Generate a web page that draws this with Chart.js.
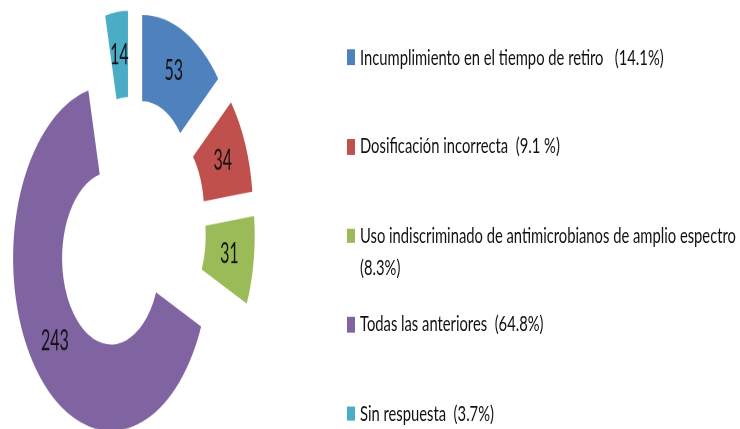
<!DOCTYPE html>
<html>
<head>
<meta charset="utf-8">
<script src="https://cdn.jsdelivr.net/npm/chart.js@4"></script>
<style>
  html { overflow: hidden; }
  body { margin: 0; padding: 0; background: #fff; }
  #page { position: relative; width: 740px; height: 429px; overflow: hidden; }
  /* the original picture is stretched vertically, so draw flat and stretch */
  #stage {
    position: absolute; left: 0; top: 0; width: 740px; height: 243px;
    transform: scaleY(1.76); transform-origin: 0 0;
  }
  #pie { position: absolute; left: 0; top: 0; }
  #legend-box {
    position: absolute; left: 347px; top: 23.7px; width: 393px;
    font-family: Lato, sans-serif; font-size: 12px; color: #111;
  }
  .legend-item { display: flex; align-items: flex-start; height: 50.6px; }
  .legend-item .mark { width: 8px; height: 8.5px; margin: 4.8px 5px 0 0; flex: none; }
  .legend-item .txt {
    display: inline-block; width: 306px; line-height: 18px; white-space: pre-wrap;
    transform: scaleX(1.23); transform-origin: 0 0;
  }
</style>
</head>
<body>
<div id="page">
  <div id="stage">
    <canvas id="pie" width="262" height="260"></canvas>
    <div id="legend-box"></div>
  </div>
</div>
<script>
// Data
const SLICE_LABELS = [
  'Incumplimiento en el tiempo de retiro',
  'Dosificación incorrecta',
  'Uso indiscriminado de antimicrobianos de amplio espectro',
  'Todas las anteriores',
  'Sin respuesta'
];
const SLICE_PERCENTS = ['   (14.1%)', '  (9.1 %)', ' (8.3%)', '  (64.8%)', '  (3.7%)'];
const SLICE_VALUES = [53, 34, 31, 243, 14];
const SLICE_COLORS = ['#4F81BD', '#C0504D', '#9BBB59', '#8064A2', '#4BACC6'];

const EXPLODE = 26; // px each slice is pulled out (Excel style, pure shift)

// pull every slice out along its middle angle, without changing its size
const explodeSlices = {
  id: 'explodeSlices',
  afterDatasetUpdate(chart, args) {
    args.meta.data.forEach(arc => {
      const mid = (arc.startAngle + arc.endAngle) / 2;
      arc.x += Math.cos(mid) * EXPLODE;
      arc.y += Math.sin(mid) * EXPLODE;
    });
  }
};

// values written on each slice
const sliceValueLabels = {
  id: 'sliceValueLabels',
  afterDatasetsDraw(chart) {
    const ctx = chart.ctx;
    const meta = chart.getDatasetMeta(0);
    ctx.save();
    ctx.font = '16px Lato, sans-serif';
    ctx.fillStyle = '#111';
    ctx.textAlign = 'center';
    ctx.textBaseline = 'middle';
    meta.data.forEach((arc, i) => {
      const mid = (arc.startAngle + arc.endAngle) / 2;
      const r = (arc.innerRadius + arc.outerRadius) / 2;
      ctx.fillText(String(SLICE_VALUES[i]), arc.x + Math.cos(mid) * r, arc.y + Math.sin(mid) * r);
    });
    ctx.restore();
  }
};

const ctxPie = document.getElementById('pie').getContext('2d');
const pieChart = new Chart(ctxPie, {
  type: 'doughnut',
  data: {
    labels: SLICE_LABELS,
    datasets: [{
      data: SLICE_VALUES,
      backgroundColor: SLICE_COLORS,
      borderWidth: 0,
      hoverBorderWidth: 0,
      offset: 0,
      hoverOffset: 0
    }]
  },
  options: {
    responsive: false,
    devicePixelRatio: 2,
    animation: false,
    events: [],
    radius: 98,
    cutout: '50%',
    layout: { padding: 0 },
    plugins: {
      legend: { display: false },
      tooltip: { enabled: false }
    }
  },
  plugins: [explodeSlices, sliceValueLabels]
});

// Custom legend box
const legendBox = document.getElementById('legend-box');
legendBox.innerHTML = SLICE_LABELS.map((label, i) => `
  <div class="legend-item">
    <span class="mark" style="background:${SLICE_COLORS[i]};"></span>
    <span class="txt">${label}${SLICE_PERCENTS[i]}</span>
  </div>
`).join('');
</script>
</body>
</html>
